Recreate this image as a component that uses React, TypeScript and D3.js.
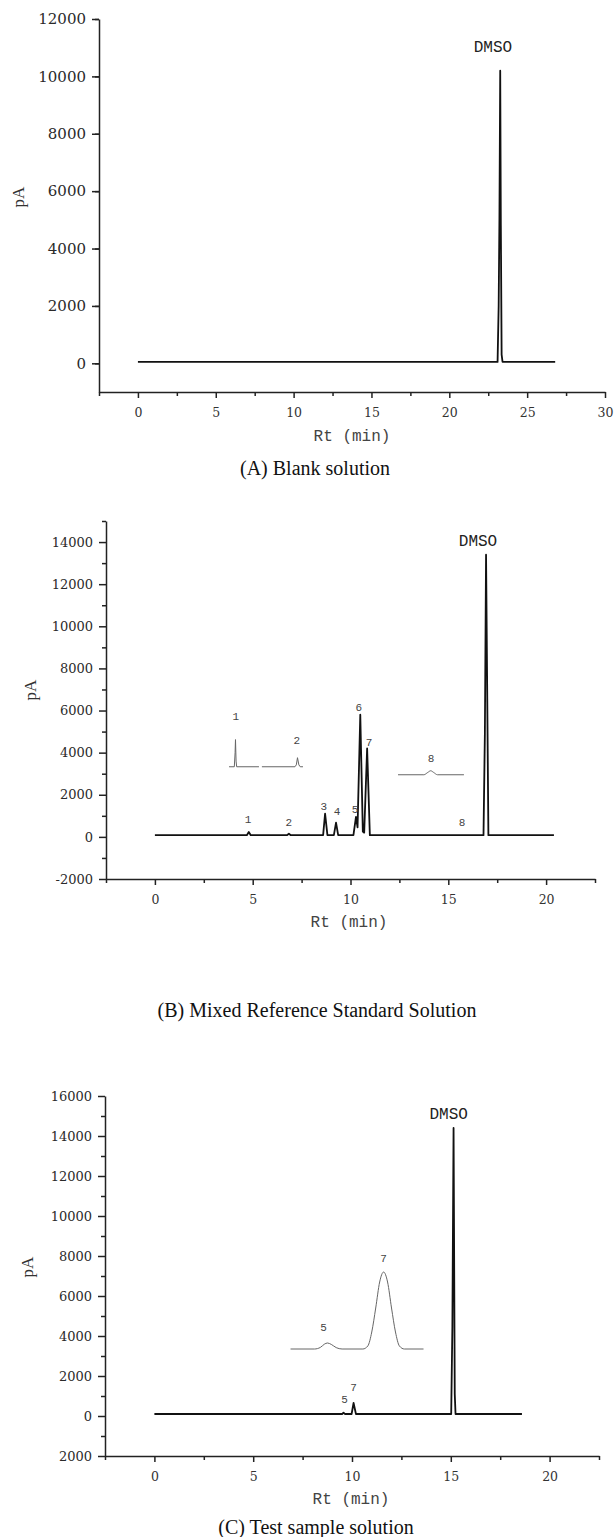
import React, { useEffect, useRef } from 'react';
import * as d3 from 'd3';

// Traces are [Rt (min), signal (pA)] pairs.
const blankTrace = [
  [0, 50], [23.1, 50], [23.17, 2000], [23.22, 5100], [23.27, 10200],
  [23.31, 4800], [23.36, 300], [23.42, 50], [26.8, 50],
];

const mixedTrace = [
  [0, 80], [4.7, 80], [4.8, 230], [4.9, 80], [6.75, 80], [6.85, 150], [6.95, 80],
  [8.6, 80], [8.7, 1100], [8.82, 80], [9.15, 80], [9.26, 680], [9.37, 80],
  [10.15, 80], [10.28, 950], [10.36, 450], [10.5, 5800], [10.63, 250], [10.7, 200],
  [10.85, 4200], [10.99, 80], [16.8, 80], [16.87, 4900], [16.93, 13400],
  [16.99, 6800], [17.05, 80], [20.4, 80],
];

// enlarged views drawn inside panel B
const mixedInset1 = [
  [3.79, 3330], [4.06, 3330], [4.1, 4000], [4.12, 4620], [4.15, 3600], [4.18, 3330], [5.32, 3330],
];
const mixedInset2 = [
  [5.47, 3330], [7.16, 3330], [7.23, 3420], [7.29, 3760], [7.36, 3420], [7.43, 3330], [7.57, 3330],
];
const mixedInset8 = [
  [12.43, 2950], [13.75, 2950], [13.95, 3060], [14.1, 3140], [14.25, 3060], [14.45, 2950], [15.8, 2950],
];

const sampleTrace = [
  [0, 100], [9.5, 100], [9.57, 160], [9.65, 100], [9.98, 100], [10.08, 650], [10.2, 100],
  [15.02, 100], [15.08, 4500], [15.14, 14400], [15.2, 1100], [15.24, 100], [18.6, 100],
];

const sampleInset = [
  [6.89, 3350], [8.1, 3350], [8.4, 3430], [8.6, 3590], [8.76, 3650], [8.95, 3580], [9.2, 3420],
  [9.5, 3350], [10.55, 3350], [10.8, 3500], [11.0, 4200], [11.2, 5400], [11.4, 6700], [11.6, 7200],
  [11.8, 6700], [12.0, 5400], [12.2, 4200], [12.4, 3500], [12.65, 3350], [13.62, 3350],
];

// peak labels: [text, Rt, pA of label centre]
const blankLabels = [['DMSO', 22.8, 10980]];
const mixedLabels = [
  ['DMSO', 16.52, 14000], ['1', 4.76, 810], ['2', 6.85, 670], ['3', 8.64, 1430], ['4', 9.31, 1190],
  ['5', 10.23, 1290], ['6', 10.43, 6140], ['7', 10.95, 4480], ['8', 15.7, 670],
];
const mixedInsetLabels = [['1', 4.14, 5670], ['2', 7.26, 4570], ['8', 14.12, 3710]];
const sampleLabels = [['DMSO', 14.89, 15050], ['5', 9.62, 800], ['7', 10.08, 1400]];
const sampleInsetLabels = [['5', 8.56, 4400], ['7', 11.6, 7850]];

// axis ticks
const blankXTicks = [0, 5, 10, 15, 20, 25, 30];
const mixedXTicks = [0, 5, 10, 15, 20];
const sampleXTicks = [0, 5, 10, 15, 20];
const blankYTicks = [0, 2000, 4000, 6000, 8000, 10000, 12000];
const blankYLabels = ['0', '2000', '4000', '6000', '8000', '10000', '12000'];
const mixedYTicks = [-2000, 0, 2000, 4000, 6000, 8000, 10000, 12000, 14000];
const mixedYLabels = ['-2000', '0', '2000', '4000', '6000', '8000', '10000', '12000', '14000'];
const sampleYTicks = [-2000, 0, 2000, 4000, 6000, 8000, 10000, 12000, 14000, 16000];
const sampleYLabels = ['2000', '0', '2000', '4000', '6000', '8000', '10000', '12000', '14000', '16000'];

const captions = ['(A) Blank solution', '(B) Mixed Reference Standard Solution', '(C) Test sample solution'];

const panels = [
  {
    left: 99, right: 605, top: 19, bottom: 392,
    xDomain: [-2.5, 30], yDomain: [-1000, 12000],
    xTicks: blankXTicks, yTicks: blankYTicks, yLabels: blankYLabels, yFont: 15,
    trace: blankTrace, insets: [], labels: blankLabels, insetLabels: [],
    pA: [18, 197], rt: [352, 437], caption: [315, 468], title: captions[0],
  },
  {
    left: 106, right: 595, top: 521, bottom: 879,
    xDomain: [-2.5, 22.5], yDomain: [-2000, 15000],
    xTicks: mixedXTicks, yTicks: mixedYTicks, yLabels: mixedYLabels, yFont: 13,
    trace: mixedTrace, insets: [[mixedInset1, false], [mixedInset2, false], [mixedInset8, true]],
    labels: mixedLabels, insetLabels: mixedInsetLabels,
    pA: [30, 690], rt: [349, 923], caption: [317, 1010], title: captions[1],
  },
  {
    left: 105, right: 599, top: 1096, bottom: 1456,
    xDomain: [-2.5, 22.5], yDomain: [-2000, 16000],
    xTicks: sampleXTicks, yTicks: sampleYTicks, yLabels: sampleYLabels, yFont: 13,
    trace: sampleTrace, insets: [[sampleInset, true]], labels: sampleLabels, insetLabels: sampleInsetLabels,
    pA: [27, 1267], rt: [351, 1500], caption: [316, 1527], title: captions[2],
  },
];

const serif = '"DejaVu Serif", serif';
const mono = '"Liberation Mono", "Courier New", monospace';
const times = '"Liberation Serif", "Times New Roman", serif';

function drawPanel(svg, p) {
  const g = svg.append('g');
  const x = d3.scaleLinear().domain(p.xDomain).range([p.left, p.right]);
  const y = d3.scaleLinear().domain(p.yDomain).range([p.bottom, p.top]);

  const xMinor = d3.range(p.xDomain[0], p.xDomain[1] + 0.01, 5);
  const yMinor = d3.range(p.yDomain[0] + 1000, p.yDomain[1] + 1, 2000);

  // minor ticks
  g.append('g').attr('transform', `translate(0,${p.bottom})`)
    .call(d3.axisBottom(x).tickValues(xMinor).tickSize(4).tickFormat(() => ''))
    .call(a => a.select('.domain').remove());
  g.append('g').attr('transform', `translate(${p.left},0)`)
    .call(d3.axisLeft(y).tickValues(yMinor).tickSize(4).tickFormat(() => ''))
    .call(a => a.select('.domain').remove());

  const xAxis = g.append('g').attr('transform', `translate(0,${p.bottom})`)
    .call(d3.axisBottom(x).tickValues(p.xTicks).tickSize(6).tickPadding(10).tickSizeOuter(0));
  xAxis.selectAll('text')
    .style('font-family', serif).style('font-size', '12.5px').attr('fill', '#333');

  const yAxis = g.append('g').attr('transform', `translate(${p.left},0)`)
    .call(d3.axisLeft(y).tickValues(p.yTicks).tickFormat((d, i) => p.yLabels[i])
      .tickSize(7).tickPadding(6).tickSizeOuter(0));
  yAxis.selectAll('text')
    .style('font-family', serif).style('font-size', p.yFont + 'px').attr('fill', '#2a2a2a');

  g.selectAll('.domain, .tick line').attr('stroke', '#222').attr('stroke-width', 1.5);

  const line = d3.line().x(d => x(d[0])).y(d => y(d[1]));

  p.insets.forEach(([pts, smooth]) => {
    g.append('path')
      .datum(pts)
      .attr('fill', 'none')
      .attr('stroke', '#666')
      .attr('stroke-width', 1)
      .attr('d', line.curve(smooth ? d3.curveMonotoneX : d3.curveLinear));
  });

  g.append('path')
    .datum(p.trace)
    .attr('fill', 'none')
    .attr('stroke', '#111')
    .attr('stroke-width', 1.8)
    .attr('stroke-linejoin', 'round')
    .attr('d', line.curve(d3.curveLinear));

  p.labels.concat(p.insetLabels).forEach(([txt, t, v]) => {
    g.append('text')
      .attr('x', x(t))
      .attr('y', y(v))
      .attr('text-anchor', 'middle')
      .attr('dominant-baseline', 'central')
      .style('font-family', mono)
      .style('font-size', txt === 'DMSO' ? '16px' : '11px')
      .attr('fill', txt === 'DMSO' ? '#222' : '#444')
      .text(txt);
  });

  g.append('text')
    .attr('transform', `translate(${p.pA[0]},${p.pA[1]}) rotate(-90)`)
    .attr('text-anchor', 'middle')
    .attr('dominant-baseline', 'central')
    .style('font-family', times)
    .style('font-size', '17px')
    .attr('fill', '#333')
    .text('pA');

  g.append('text')
    .attr('x', p.rt[0]).attr('y', p.rt[1])
    .attr('text-anchor', 'middle')
    .attr('dominant-baseline', 'central')
    .style('font-family', mono)
    .style('font-size', '16px')
    .attr('fill', '#444')
    .text('Rt (min)');

  g.append('text')
    .attr('x', p.caption[0]).attr('y', p.caption[1])
    .attr('text-anchor', 'middle')
    .attr('dominant-baseline', 'central')
    .style('font-family', times)
    .style('font-size', '20px')
    .attr('fill', '#111')
    .text(p.title);
}

export default function App() {
  const ref = useRef(null);

  useEffect(() => {
    const svg = d3.select(ref.current);
    svg.selectAll('*').remove();
    panels.forEach(p => drawPanel(svg, p));
  }, []);

  return (
    <svg
      ref={ref}
      width={616}
      height={1537}
      style={{ position: 'absolute', left: 0, top: 0, background: '#fff' }}
    />
  );
}
